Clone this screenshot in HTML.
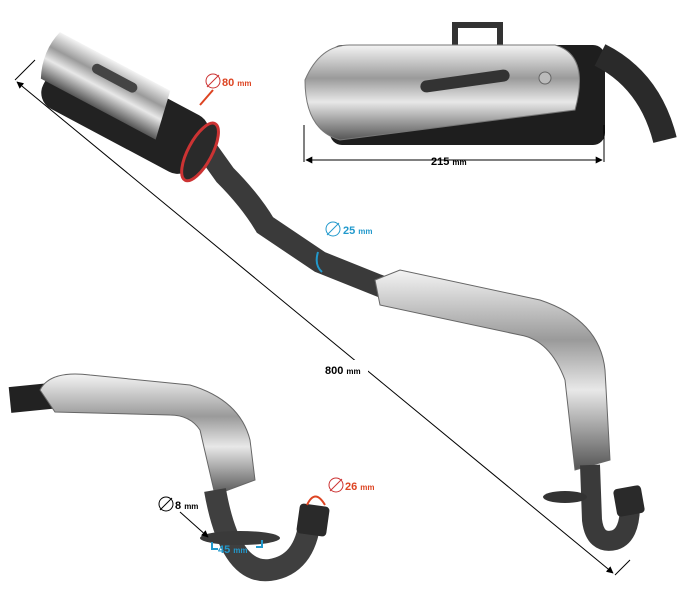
<!DOCTYPE html>
<html><head><meta charset="utf-8"><style>
html,body{margin:0;padding:0;background:#fff;}
svg{display:block;font-family:"Liberation Sans",sans-serif;font-weight:bold;}
</style></head><body>
<svg width="686" height="610" viewBox="0 0 686 610" xmlns="http://www.w3.org/2000/svg">
<defs>
<linearGradient id="chrome" x1="0" y1="0" x2="0" y2="1">
<stop offset="0" stop-color="#f4f4f4"/><stop offset="0.35" stop-color="#9a9a9a"/><stop offset="0.6" stop-color="#e8e8e8"/><stop offset="1" stop-color="#555"/>
</linearGradient>
<marker id="ah" viewBox="0 0 10 10" refX="9" refY="5" markerWidth="7" markerHeight="7" orient="auto-start-reverse"><path d="M0 0 L10 5 L0 10Z" fill="#000"/></marker>
</defs>
<path d="M200 140 L225 175 Q250 200 265 225 L320 262 L390 290" stroke="#3a3a3a" stroke-width="22" fill="none" stroke-linecap="round"/>
<g transform="translate(125,112) rotate(28)">
<rect x="-85" y="-32" width="170" height="64" rx="18" fill="#222"/>
<ellipse cx="85" cy="0" rx="12" ry="32" fill="#2a2a2a" stroke="#c33" stroke-width="3"/>
<path d="M-95 -40 L30 -40 L40 10 L-90 10 Q-102 -15 -95 -40Z" fill="url(#chrome)"/>
<rect x="-50" y="-30" width="50" height="10" rx="5" fill="#444"/>
</g>
<path d="M375 280 L400 270 L540 300 Q600 320 605 370 L610 460 L575 470 L565 380 Q550 340 520 335 L380 305 Z" fill="url(#chrome)" stroke="#666" stroke-width="1"/>
<path d="M590 465 L592 520 Q595 545 615 540 Q630 535 630 505" stroke="#3a3a3a" stroke-width="20" fill="none"/>
<rect x="615" y="487" width="28" height="28" rx="4" fill="#2a2a2a" transform="rotate(-10 629 501)"/>
<ellipse cx="565" cy="497" rx="22" ry="6" fill="#333"/>
<path d="M455 25 L500 25 L500 55 L455 55Z" fill="none" stroke="#333" stroke-width="6"/>
<rect x="330" y="45" width="275" height="100" rx="12" fill="#1e1e1e"/>
<path d="M600 55 Q650 80 665 140" stroke="#2a2a2a" stroke-width="24" fill="none"/>
<path d="M305 80 Q320 45 350 45 L555 45 Q590 55 575 110 L340 140 Q305 130 305 80Z" fill="url(#chrome)" stroke="#777"/>
<rect x="420" y="75" width="90" height="12" rx="6" fill="#333" transform="rotate(-8 465 81)"/>
<circle cx="545" cy="78" r="6" fill="#bbb" stroke="#666"/>
<line x1="304" y1="125" x2="304" y2="162" stroke="#000"/>
<line x1="604" y1="125" x2="604" y2="162" stroke="#000"/>
<line x1="306" y1="160" x2="602" y2="160" stroke="#000" marker-start="url(#ah)" marker-end="url(#ah)"/>
<text x="431" y="165" font-size="11">215 <tspan font-size="8">mm</tspan></text>
<path d="M10 400 L60 395" stroke="#222" stroke-width="26"/>
<path d="M40 390 Q50 370 90 375 L190 385 Q240 400 250 440 L255 480 L215 495 L200 430 Q190 415 170 415 L55 412 Z" fill="url(#chrome)" stroke="#666"/>
<path d="M215 490 Q230 575 270 570 Q305 565 310 520" stroke="#3f3f3f" stroke-width="22" fill="none"/>
<rect x="298" y="505" width="30" height="30" rx="4" fill="#2a2a2a" transform="rotate(8 313 520)"/>
<ellipse cx="240" cy="538" rx="40" ry="7" fill="#3a3a3a"/>
<line x1="17" y1="82" x2="613" y2="573" stroke="#000" marker-start="url(#ah)" marker-end="url(#ah)"/>
<line x1="15" y1="80" x2="35" y2="60" stroke="#000"/>
<line x1="615" y1="575" x2="630" y2="560" stroke="#000"/>
<rect x="318" y="360" width="50" height="16" fill="#fff"/>
<text x="325" y="374" font-size="11">800 <tspan font-size="8">mm</tspan></text>
<circle cx="213" cy="81" r="7" fill="none" stroke="#c33"/><line x1="207" y1="87" x2="219" y2="75" stroke="#c33"/>
<text x="222" y="86" font-size="11" fill="#d42">80 <tspan font-size="8">mm</tspan></text>
<line x1="213" y1="90" x2="200" y2="105" stroke="#d42" stroke-width="2"/>
<circle cx="333" cy="229" r="7" fill="none" stroke="#29c"/><line x1="327" y1="235" x2="339" y2="223" stroke="#29c"/>
<text x="343" y="234" font-size="11" fill="#29c">25 <tspan font-size="8">mm</tspan></text>
<path d="M318 252 Q314 265 322 272" stroke="#29c" stroke-width="2" fill="none"/>
<circle cx="336" cy="485" r="7" fill="none" stroke="#c33"/><line x1="330" y1="491" x2="342" y2="479" stroke="#c33"/>
<text x="345" y="490" font-size="11" fill="#d42">26 <tspan font-size="8">mm</tspan></text>
<path d="M307 505 Q315 488 325 505" stroke="#d42" stroke-width="2" fill="none"/>
<circle cx="166" cy="504" r="7" fill="none" stroke="#000"/><line x1="160" y1="510" x2="172" y2="498" stroke="#000"/>
<text x="175" y="509" font-size="11">8 <tspan font-size="8">mm</tspan></text>
<line x1="180" y1="512" x2="208" y2="537" stroke="#000" marker-end="url(#ah)"/>
<text x="218" y="553" font-size="11" fill="#29c">45 <tspan font-size="8">mm</tspan></text>
<path d="M212 542 L212 549 L218 549 M262 540 L262 547 L256 547" stroke="#29c" stroke-width="2" fill="none"/>
</svg>
</body></html>
